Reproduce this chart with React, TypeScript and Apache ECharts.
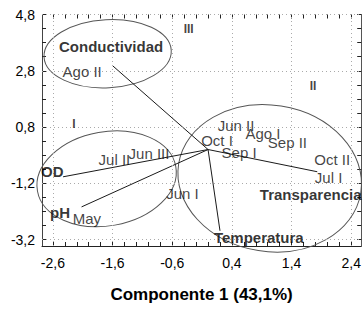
import React, { useEffect, useRef } from "react";
import * as echarts from "echarts";

// Axis ticks / labels
const xMajor = [-2.6, -1.6, -0.6, 0.4, 1.4, 2.4];
const xMinor = [-2.6, -2.4, -2.2, -2.0, -1.8, -1.6, -1.4, -1.2, -1.0, -0.8, -0.6, -0.4, -0.2, 0.0, 0.2, 0.4, 0.6, 0.8, 1.0, 1.2, 1.4, 1.6, 1.8, 2.0, 2.2, 2.4];
const yMajor = [-3.2, -1.2, 0.8, 2.8, 4.8];
const yMinor = [-3.2, -2.7, -2.2, -1.7, -1.2, -0.7, -0.2, 0.3, 0.8, 1.3, 1.8, 2.3, 2.8, 3.3, 3.8, 4.3, 4.8];

// Samples (regular labels)
const sampleNames = ["Ago II", "Jul II", "Jun III", "May", "Jun I", "Oct I", "Sep I", "Jun II", "Ago I", "Sep II", "Oct II", "Jul I"];
const sampleX = [-2.11, -1.57, -0.99, -2.03, -0.43, 0.15, 0.52, 0.47, 0.92, 1.33, 2.08, 2.02];
const sampleY = [2.78, -0.37, -0.15, -2.47, -1.58, 0.31, -0.12, 0.84, 0.56, 0.24, -0.37, -1.01];

// Variables (bold labels) and their vector tips
const varNames = ["Conductividad", "OD", "pH", "Transparencia", "Temperatura"];
const varLabelX = [-1.625, -2.61, -2.48, 1.72, 0.85];
const varLabelY = [3.67, -0.78, -2.25, -1.59, -3.12];
const varTipX = [-1.6, -2.43, -2.12, 1.83, 0.2];
const varTipY = [2.98, -0.97, -2.04, -0.79, -2.89];

// Group labels
const groupNames = ["I", "II", "III"];
const groupX = [-2.25, 1.76, -0.325];
const groupY = [0.91, 2.27, 4.3];

// Group ellipses (data units, angle in degrees)
const ellipseCx = [-1.683, -1.7, 1.033];
const ellipseCy = [3.406, -1.04, -1.025];
const ellipseRx = [1.067, 1.177, 1.545];
const ellipseRy = [1.21, 1.673, 2.6];
const ellipseAngle = [3, 10, -9];

const FONT = "'Liberation Sans', Arial, sans-serif";
const TICK_FONT = "'Liberation Sans Narrow', 'Liberation Sans', Arial, sans-serif";

const X_MIN = -2.783;
const X_MAX = 2.567;
const Y_MIN = -3.43;
const Y_MAX = 4.8;

const fmt = (v: number) => String(Math.round(v * 10) / 10).replace(".", ",");

export default function App() {
  const ref = useRef<HTMLDivElement | null>(null);

  useEffect(() => {
    if (!ref.current) return;
    const chart = echarts.init(ref.current, null, { renderer: "svg" });

    const axisColor = "#222";
    const tickCommon = { show: true, inside: true, length: 4, lineStyle: { color: axisColor, width: 1 } };

    const vectorSeries = varNames.map((n, i) => ({
      type: "line",
      name: n + " vector",
      data: [
        [0, 0],
        [varTipX[i], varTipY[i]],
      ],
      symbol: "none",
      silent: true,
      lineStyle: { color: "#1a1a1a", width: 1 },
      z: 3,
    }));

    const option: any = {
      animation: false,
      backgroundColor: "#fff",
      grid: { left: 42, right: 1, top: 14.5, bottom: 64, containLabel: false },
      xAxis: [
        {
          type: "value",
          position: "bottom",
          min: X_MIN,
          max: X_MAX,
          axisLine: { show: true, onZero: false, lineStyle: { color: axisColor, width: 1 } },
          axisTick: { ...tickCommon, customValues: xMinor },
          axisLabel: {
            customValues: xMajor,
            formatter: (v: number) => fmt(v),
            fontSize: 14,
            color: "#000",
            margin: 10,
            fontFamily: TICK_FONT,
          },
          splitLine: { show: false },
          name: "Componente 1 (43,1%)",
          nameLocation: "middle",
          nameGap: 40,
          nameTextStyle: { fontWeight: "bold", fontSize: 17, color: "#000", fontFamily: FONT },
        },
        {
          type: "value",
          position: "top",
          min: X_MIN,
          max: X_MAX,
          axisLine: { show: false, onZero: false },
          axisTick: { ...tickCommon, customValues: xMinor },
          axisLabel: { show: false },
          splitLine: { show: false },
        },
      ],
      yAxis: [
        {
          type: "value",
          position: "left",
          min: Y_MIN,
          max: Y_MAX,
          axisLine: { show: true, onZero: false, lineStyle: { color: "#444", width: 1 } },
          axisTick: { ...tickCommon, customValues: yMinor },
          axisLabel: {
            customValues: yMajor,
            formatter: (v: number) => fmt(v),
            fontSize: 14,
            color: "#000",
            margin: 7,
            fontFamily: TICK_FONT,
          },
          splitLine: { show: false },
        },
        {
          type: "value",
          position: "right",
          min: Y_MIN,
          max: Y_MAX,
          axisLine: { show: true, onZero: false, lineStyle: { color: "#555", width: 1 } },
          axisTick: { ...tickCommon, customValues: yMinor },
          axisLabel: { show: false },
          splitLine: { show: false },
        },
      ],
      series: [
        {
          type: "scatter",
          name: "grid",
          data: [],
          silent: true,
          z: 1,
          markLine: {
            silent: true,
            symbol: "none",
            label: { show: false },
            lineStyle: { type: [1, 3], color: "#aaa", width: 1 },
            data: [...xMajor.map((v) => ({ xAxis: v })), ...yMajor.map((v) => ({ yAxis: v }))],
          },
        },
        ...vectorSeries,
        {
          type: "scatter",
          name: "samples",
          symbolSize: 0,
          silent: true,
          z: 5,
          data: sampleNames.map((n, i) => ({ name: n, value: [sampleX[i], sampleY[i]] })),
          label: {
            show: true,
            position: "inside",
            formatter: "{b}",
            fontSize: 15,
            color: "#111",
            fontFamily: FONT,
          },
        },
        {
          type: "scatter",
          name: "variables",
          symbolSize: 0,
          silent: true,
          z: 6,
          data: varNames.map((n, i) => ({ name: n, value: [varLabelX[i], varLabelY[i]] })),
          label: {
            show: true,
            position: "inside",
            formatter: "{b}",
            fontSize: 15,
            fontWeight: "bold",
            color: "#000",
            fontFamily: FONT,
          },
        },
        {
          type: "scatter",
          name: "groups",
          symbolSize: 0,
          silent: true,
          z: 6,
          data: groupNames.map((n, i) => ({ name: n, value: [groupX[i], groupY[i]] })),
          label: {
            show: true,
            position: "inside",
            formatter: "{b}",
            fontSize: 12,
            fontWeight: "bold",
            color: "#111",
            fontFamily: FONT,
          },
        },
      ],
    };

    chart.setOption(option);

    const toPx = (x: number, y: number) => [
      chart.convertToPixel({ xAxisIndex: 0 }, x) as number,
      chart.convertToPixel({ yAxisIndex: 0 }, y) as number,
    ];
    const graphics = ellipseCx.map((cx, i) => {
      const c = toPx(cx, ellipseCy[i]);
      const ex = toPx(cx + ellipseRx[i], ellipseCy[i]);
      const ey = toPx(cx, ellipseCy[i] + ellipseRy[i]);
      return {
        type: "ellipse",
        x: c[0],
        y: c[1],
        rotation: (ellipseAngle[i] * Math.PI) / 180,
        shape: { cx: 0, cy: 0, rx: Math.abs(ex[0] - c[0]), ry: Math.abs(ey[1] - c[1]) },
        style: { fill: "none", stroke: "#555", lineWidth: 1 },
        silent: true,
        z: 2,
      };
    });
    chart.setOption({ graphic: graphics });

    return () => chart.dispose();
  }, []);

  return (
    <div
      ref={ref}
      style={{ position: "fixed", left: 0, top: 0, width: 364, height: 310, background: "#fff" }}
    />
  );
}
